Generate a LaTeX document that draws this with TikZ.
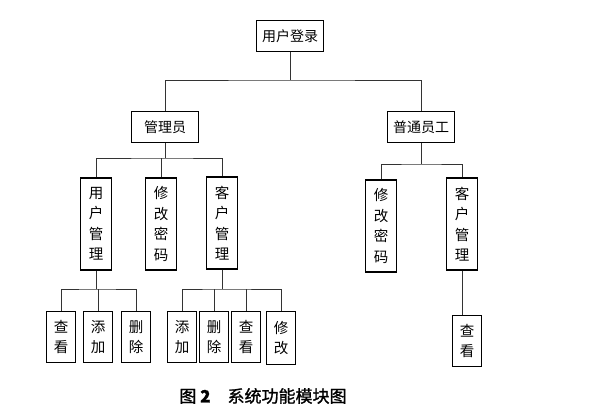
\documentclass[tikz,border=0pt]{standalone}
\usepackage{fontspec}
\newfontfamily\cjk{Noto Sans CJK SC}
\newfontfamily\cjkcap[FakeBold=1.2]{Noto Sans CJK SC}
\usepackage{tikz}
\usetikzlibrary{positioning, calc}

\tikzset{
  box/.style={draw, line width=1.1pt, inner sep=0pt, font=\cjk\fontsize{14}{16}\selectfont},
  hbox/.style={box, minimum width=67pt, minimum height=31pt},
  vbox/.style={box, minimum width=31pt, minimum height=92pt, align=center, font=\cjk\fontsize{14.5}{20.5}\selectfont},
  leaf/.style={box, minimum width=29pt, minimum height=51pt, align=center, font=\cjk\fontsize{14.5}{20.5}\selectfont},
  link/.style={line width=0.9pt, draw=black!80}
}

\begin{document}
\begin{tikzpicture}[x=1pt, y=-1pt]
    \useasboundingbox (0,0) rectangle (600,407);
    \node [hbox] (root) at (290,36) { 用户登录 };
    \node [hbox] (admin) at (165,127) { 管理员 };
    \node [hbox] (staff) at (421,127) { 普通员工 };

    \node [vbox] (uman) at (96,224) { 用\\户\\管\\理 };
    \node [vbox] (apwd) at (161,224) { 修\\改\\密\\码 };
    \node [vbox] (acus) at (222,223) { 客\\户\\管\\理 };
    \node [vbox] (spwd) at (381,226) { 修\\改\\密\\码 };
    \node [vbox] (scus) at (462,224) { 客\\户\\管\\理 };

    \node [leaf] (u1) at (61,337) { 查\\看 };
    \node [leaf] (u2) at (98,337) { 添\\加 };
    \node [leaf] (u3) at (136,337) { 删\\除 };
    \node [leaf] (c1) at (182,337) { 添\\加 };
    \node [leaf] (c2) at (214,337) { 删\\除 };
    \node [leaf] (c3) at (246,337) { 查\\看 };
    \node [leaf, minimum height=53pt] (c4) at (281,338) { 修\\改 };
    \node [leaf] (sv) at (467,341) { 查\\看 };

    \coordinate (b0) at (290,80);
    \coordinate (b1) at (165,158);
    \coordinate (b2) at (421,164);
    \coordinate (b3) at (96,289);
    \coordinate (b4) at (222,289);

    % top level
    \draw [link] (root) -- (b0);
    \draw [link] (admin) |- (b0) -| (staff);
    % admin
    \draw [link] (admin) -- (b1);
    \draw [link] (uman) |- (b1) -| (acus);
    \draw [link] (apwd) -- (apwd |- b1);
    % staff
    \draw [link] (staff) -- (b2);
    \draw [link] (spwd) |- (b2) -| (scus);
    \draw [link] (scus) -- (scus |- sv.north);
    % leaves
    \draw [link] (uman) -- (b3);
    \draw [link] (u1) |- (b3) -| (u3);
    \draw [link] (u2) -- (u2 |- b3);
    \draw [link] (acus) -- (b4);
    \draw [link] (c1) |- (b4) -| (c4);
    \draw [link] (c2) -- (c2 |- b4);
    \draw [link] (c3) -- (c3 |- b4);

    \node [font=\cjkcap\fontsize{17}{20}\selectfont] (cap) at (263,396) { 图 {\bfseries 2}\quad 系统功能模块图 };
\end{tikzpicture}
\end{document}
